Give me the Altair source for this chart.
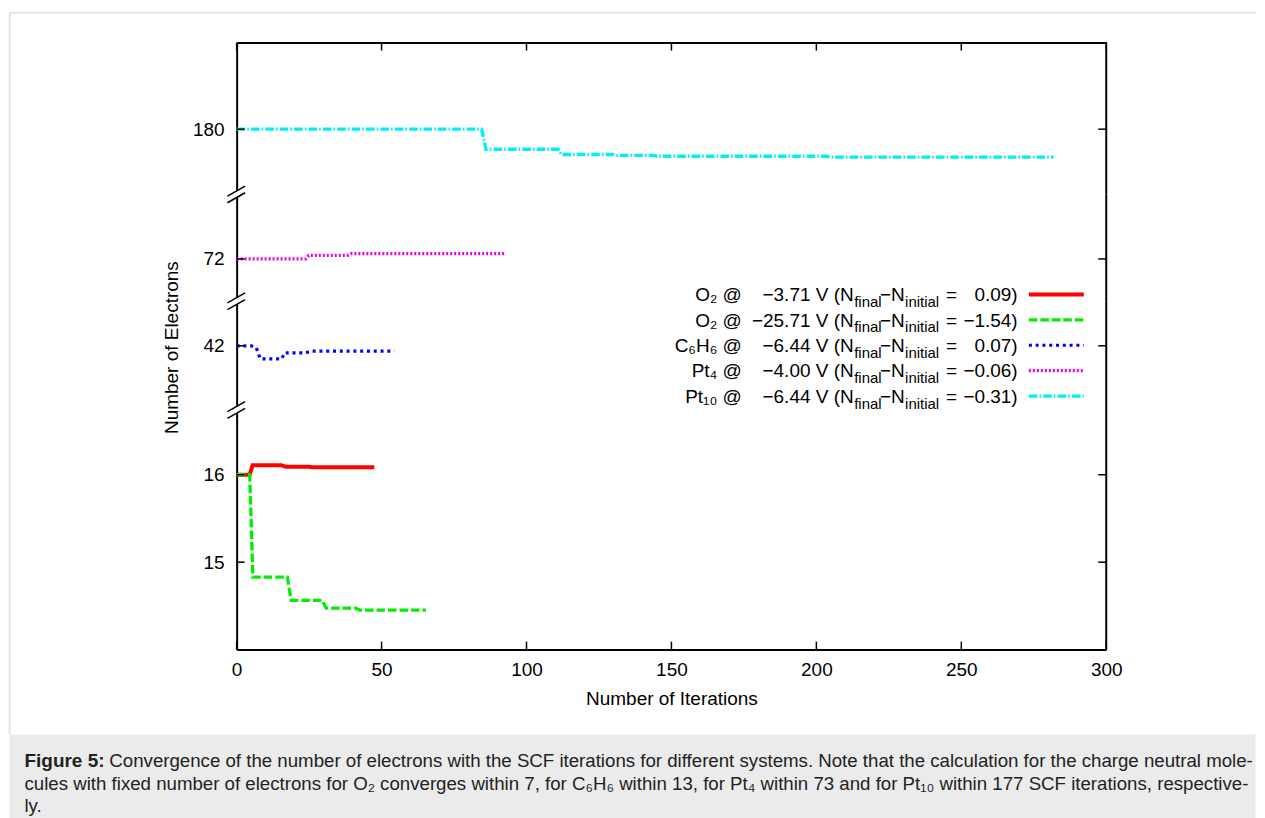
import altair as alt
import pandas as pd

# ------------------------------------------------------------------ data
SERIES = ["O2 @ -3.71 V", "O2 @ -25.71 V", "C6H6 @ -6.44 V", "Pt4 @ -4.00 V", "Pt10 @ -6.44 V"]

o2_a_iter = [0, 4.5, 5.5, 15.5, 17, 25, 26, 47.5]
o2_a_val = [16.0, 16.0, 16.107, 16.107, 16.09, 16.09, 16.085, 16.085]

o2_b_iter = [0, 4.5, 5.6, 17.5, 18.8, 29.5, 30.9, 41, 42.4, 65.3]
o2_b_val = [16.0, 16.0, 14.83, 14.83, 14.564, 14.564, 14.475, 14.475, 14.452, 14.452]

c6h6_iter = [0, 5, 6.8, 7.5, 8.2, 15.6, 16.5, 23.8, 25.7, 54.4]
c6h6_val = [42.0, 42.0, 41.977, 41.908, 41.851, 41.851, 41.92, 41.92, 41.939, 41.939]

pt4_iter = [0, 23.8, 24.9, 38.3, 39.5, 92.9]
pt4_val = [72.0, 72.0, 72.042, 72.042, 72.061, 72.061]

pt10_iter = [0, 84.5, 86, 110.9, 112, 130, 131, 144, 145, 203.6, 204.5, 281.8]
pt10_val = [180.0, 180.0, 179.77, 179.77, 179.71, 179.71, 179.70, 179.70, 179.69, 179.69, 179.68, 179.68]

X_TICKS = [0, 50, 100, 150, 200, 250, 300]
Y_TICKS = [[180], [72], [42], [15, 16]]

LEG_MOL = ["O\u2082", "O\u2082", "C\u2086H\u2086", "Pt\u2084", "Pt\u2081\u2080"]
LEG_VOLT = ["\u22123.71", "\u221225.71", "\u22126.44", "\u22124.00", "\u22126.44"]
LEG_DELTA = ["0.09", "\u22121.54", "0.07", "\u22120.06", "\u22120.31"]

X_TITLE = "Number of Iterations"
Y_TITLE = "Number of Electrons"

CAPTION_HEAD = "Figure 5:"
CAPTION_LINES = [
    "Convergence of the number of electrons with the SCF iterations for different systems. Note that the calculation for the charge neutral mole-",
    "cules with fixed number of electrons for O\u2082 converges within 7, for C\u2086H\u2086 within 13, for Pt\u2084 within 73 and for Pt\u2081\u2080 within 177 SCF iterations, respective-",
    "ly.",
]

# ------------------------------------------------------------------ tables
rows = []
for name, its, vals in zip(SERIES,
                           [o2_a_iter, o2_b_iter, c6h6_iter, pt4_iter, pt10_iter],
                           [o2_a_val, o2_b_val, c6h6_val, pt4_val, pt10_val]):
    for i, v in zip(its, vals):
        rows.append({"series": name, "iter": i, "val": v})
df = pd.DataFrame(rows)

leg_df = pd.DataFrame({
    "series": SERIES,
    "row": list(range(len(SERIES))),
    "p_mol": [m + " @" for m in LEG_MOL],
    "p_volt": [v + " V (N" for v in LEG_VOLT],
    "p_delta": [d + ")" for d in LEG_DELTA],
})
one = pd.DataFrame({"k": [0]})

# ------------------------------------------------------------------ styles
FONT = "Liberation Sans"
FS = 19
CAP_FS = 18.7
STYLE = {
    SERIES[0]: dict(color="#ff0000", strokeWidth=4),
    SERIES[1]: dict(color="#00ee00", strokeWidth=3.3, strokeDash=[8.5, 3]),
    SERIES[2]: dict(color="#0000ff", strokeWidth=3.2, strokeDash=[3, 3.8]),
    SERIES[3]: dict(color="#ee00ee", strokeWidth=3.2, strokeDash=[2, 2]),
    SERIES[4]: dict(color="#00f0f0", strokeWidth=3.3, strokeDash=[8.5, 2.2, 1.5, 2.2]),
}

W = 871
RIGHT = 1020.5   # right edge of the page area, relative to the plot's left edge
PANELS = [
    (152, [179.254, 180.991], [SERIES[4]]),
    (107, [71.517, 72.739], [SERIES[3]]),
    (109, [41.265, 42.511], [SERIES[2]]),
    (240, [14.0, 16.74], [SERIES[0], SERIES[1]]),
]
xscale = alt.Scale(domain=[0, 300], nice=False, zero=False)

common_axis = dict(grid=False, domainColor="black", domainWidth=2, ticks=False, tickSize=0,
                   labelFont=FONT, labelFontSize=FS, labelColor="black", zindex=0,
                   titleFont=FONT, titleFontSize=FS, titleFontWeight="normal", titleColor="black")

x_axis_bottom = alt.Axis(values=X_TICKS, labelPadding=26, labelBaseline="alphabetic",
                         labelFlush=False, labelOverlap=False, title=X_TITLE,
                         titleY=54.5, titleBaseline="alphabetic", **common_axis)
x_axis_top = alt.Axis(orient="top", labels=False, title=None, **common_axis)


def y_axis(ticks, with_title):
    kw = dict(values=ticks, labelPadding=12.5, labelBaseline="middle", labelOverlap=False, **common_axis)
    if with_title:
        return alt.Axis(title=Y_TITLE, titleAngle=270, titleX=-59.5, titleY=46,
                        titleBaseline="alphabetic", titleAlign="center", **kw)
    return alt.Axis(title=None, **kw)


def deco_rule(x, x2, y, y2, color="black", width=1.5):
    return alt.Chart(one).mark_rule(color=color, strokeWidth=width).encode(
        x=alt.value(x), x2=alt.value(x2), y=alt.value(y), y2=alt.value(y2))


def vrule(x, y, y2, color="black", width=2):
    return alt.Chart(one).mark_rule(color=color, strokeWidth=width).encode(
        x=alt.value(x), y=alt.value(y), y2=alt.value(y2))


panels = []
for p, (h, dom, series) in enumerate(PANELS):
    yscale = alt.Scale(domain=dom, nice=False, zero=False)
    if p == 0:
        xax = x_axis_top
    elif p == 3:
        xax = x_axis_bottom
    else:
        xax = None
    layers = []

    # page furniture (panel 1 carries the figure frame and the page extent)
    if p == 0:
        layers.append(alt.Chart(one).mark_rect(color="white", opacity=0).encode(
            x=alt.value(-228.5), x2=alt.value(RIGHT), y=alt.value(-33), y2=alt.value(777)))
        layers.append(deco_rule(-227.5, RIGHT, -30, -30, color="#e4e4e4", width=2))
        layers.append(vrule(-227.3, -30, 693, color="#e4e4e4", width=2))

    # data lines
    for k, s in enumerate(series):
        st = STYLE[s]
        yax = y_axis(Y_TICKS[p], p == 2) if k == 0 else None
        layers.append(
            alt.Chart(df).transform_filter(alt.datum.series == s).mark_line(
                strokeCap="butt", strokeJoin="miter", **st).encode(
                x=alt.X("iter:Q", scale=xscale, axis=xax),
                y=alt.Y("val:Q", scale=yscale, axis=yax),
            ))

    # inward y ticks (left and right) and right border
    tick_df = pd.DataFrame({"v": Y_TICKS[p]})
    layers.append(alt.Chart(tick_df).mark_rule(color="black", strokeWidth=1.5).encode(
        y=alt.Y("v:Q", scale=yscale, axis=None), x=alt.value(0), x2=alt.value(8)))
    layers.append(alt.Chart(tick_df).mark_rule(color="black", strokeWidth=1.5).encode(
        y=alt.Y("v:Q", scale=yscale, axis=None), x=alt.value(W - 8), x2=alt.value(W)))
    layers.append(vrule(W, 0, h))

    # inward x ticks
    xt_df = pd.DataFrame({"t": X_TICKS})
    if p == 0:
        layers.append(alt.Chart(xt_df).mark_rule(color="black", strokeWidth=1.5).encode(
            x=alt.X("t:Q", scale=xscale, axis=xax), y=alt.value(0), y2=alt.value(8)))
    if p == 3:
        layers.append(alt.Chart(xt_df).mark_rule(color="black", strokeWidth=1.5).encode(
            x=alt.X("t:Q", scale=xscale, axis=xax), y=alt.value(h - 8), y2=alt.value(h)))

    # axis break marks at the top of panels 2-4
    if p > 0:
        layers.append(alt.Chart(one).mark_rect(color="white").encode(
            x=alt.value(-3), x2=alt.value(3), y=alt.value(-3.4), y2=alt.value(3.2)))
        layers.append(deco_rule(-9.2, 8.5, 1.7, -8.3))
        layers.append(deco_rule(-9.2, 8.5, 8.4, -1.6))

    # legend (in panel 3)
    if p == 2:
        leg_y = alt.Y("row:Q", scale=alt.Scale(domain=[0, 4], range=[-6.7, 95]), axis=None)

        def leg_text(text_enc, x, align, dy, size):
            return alt.Chart(leg_df).mark_text(
                align=align, baseline="alphabetic", dy=dy, fontSize=size, font=FONT,
                color="black").encode(x=alt.value(x), y=leg_y, text=text_enc)

        layers.append(leg_text(alt.Text("p_mol:N"), 506, "right", 6.7, FS))
        layers.append(leg_text(alt.Text("p_volt:N"), 618, "right", 6.7, FS))
        layers.append(leg_text(alt.value("final"), 618.5, "left", 12.5, 15))
        layers.append(leg_text(alt.value("\u2212N"), 644.3, "left", 6.7, FS))
        layers.append(leg_text(alt.value("initial"), 669.5, "left", 12.5, 15))
        layers.append(leg_text(alt.value("="), 710.5, "left", 6.7, FS))
        layers.append(leg_text(alt.Text("p_delta:N"), 782.3, "right", 6.7, FS))
        for s in SERIES:
            st = STYLE[s]
            layers.append(alt.Chart(leg_df).transform_filter(alt.datum.series == s).mark_rule(
                strokeCap="butt", **st).encode(
                y=leg_y, x=alt.value(793.5), x2=alt.value(848.5)))

    # caption (in panel 4)
    if p == 3:
        layers.append(alt.Chart(one).mark_rect(color="#ebebeb").encode(
            x=alt.value(-227.5), x2=alt.value(RIGHT), y=alt.value(325), y2=alt.value(409)))
        layers.append(alt.Chart(one).mark_text(
            text=CAPTION_HEAD, align="left", baseline="alphabetic", font=FONT, fontSize=19,
            fontWeight="bold", color="#222222").encode(x=alt.value(-212.5), y=alt.value(358)))
        cap_x = [-127.5, -212.5, -212.5]
        cap_y = [358, 380.5, 402.5]
        for line, cx, cy in zip(CAPTION_LINES, cap_x, cap_y):
            layers.append(alt.Chart(one).mark_text(
                text=line, align="left", baseline="alphabetic", font=FONT, fontSize=CAP_FS,
                color="#222222").encode(x=alt.value(cx), y=alt.value(cy)))

    panel = alt.layer(*layers).properties(width=W, height=h).resolve_scale(y="independent")
    panels.append(panel)

chart = alt.vconcat(*panels, spacing=0, bounds="flush").properties(
    padding=0, background="white"
).configure_view(stroke="transparent")

chart.save("out.html", embed_options={"renderer": "svg", "actions": False})
